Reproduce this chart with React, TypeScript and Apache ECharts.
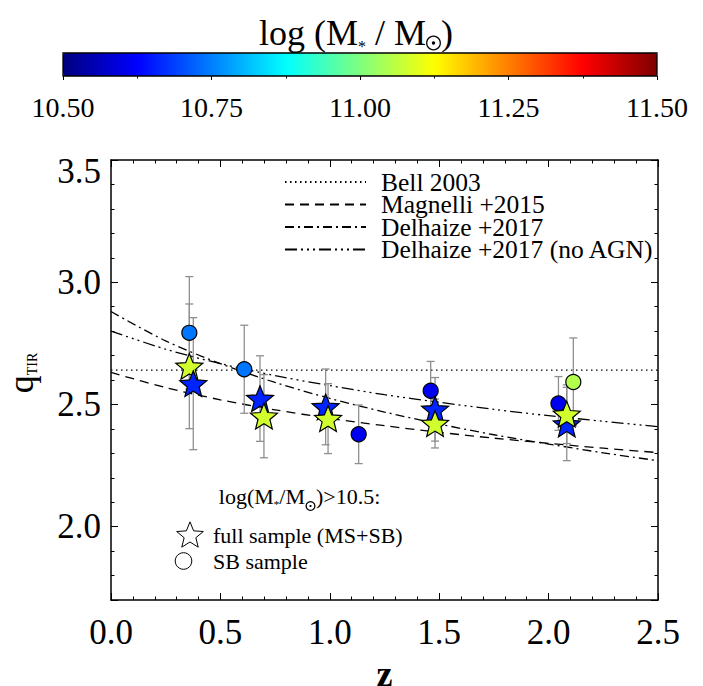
import React, { useEffect, useRef, useState } from 'react';
import * as echarts from 'echarts';

// ---------- data ----------
const massTicks = [10.5, 10.75, 11.0, 11.25, 11.5];
const zTicks = [0, 0.5, 1.0, 1.5, 2.0, 2.5];

const bellZ = [0, 2.5];
const bellQ = [2.64, 2.64];

const curveZ = [0, 0.25, 0.5, 0.75, 1.0, 1.25, 1.5, 1.75, 2.0, 2.25, 2.5];
const magnelliQ = [2.631, 2.569, 2.519, 2.478, 2.443, 2.413, 2.386, 2.362, 2.341, 2.321, 2.303];
const delhaizeQ = [2.88, 2.76, 2.667, 2.59, 2.525, 2.469, 2.42, 2.376, 2.338, 2.302, 2.27];
const delhaizeNoAgnQ = [2.8, 2.726, 2.667, 2.618, 2.577, 2.54, 2.509, 2.48, 2.454, 2.431, 2.409];

// SB sample (circles)
const sbZ = [0.358, 0.609, 1.132, 1.461, 2.045, 2.113];
const sbQ = [2.793, 2.644, 2.378, 2.556, 2.504, 2.592];
const sbErr = [0.23, 0.18, 0.12, 0.12, 0.11, 0.18];
const sbMass = [10.74, 10.74, 10.61, 10.61, 10.61, 11.05];

// full sample (stars), in drawing order
const fullZ = [0.358, 0.376, 0.681, 0.981, 1.481, 2.083, 0.699, 0.992, 1.481, 2.083];
const fullQ = [2.656, 2.585, 2.524, 2.49, 2.48, 2.42, 2.452, 2.442, 2.422, 2.46];
const fullErr = [0.255, 0.27, 0.175, 0.155, 0.13, 0.15, 0.17, 0.143, 0.1, 0.12];
const fullMass = [11.08, 10.66, 10.66, 10.66, 10.66, 10.66, 11.08, 11.08, 11.08, 11.08];

// ---------- styling ----------
const FONT = 'Liberation Serif';
const JET = ['#00007f', '#0000ff', '#007fff', '#00ffff', '#7fff7f', '#ffff00', '#ff7f00', '#ff0000', '#7f0000'];
const STAR_SHAPE = [
  [50, 0], [62.93, 32.2], [97.55, 34.55], [70.92, 56.8], [79.39, 90.45],
  [50, 72], [20.61, 90.45], [29.08, 56.8], [2.45, 34.55], [37.07, 32.2],
];
const STAR_PATH = 'path://M' + STAR_SHAPE.map((p) => p[0] + ' ' + p[1]).join(' L') + ' Z';

const errRender = (params: any, api: any) => {
  const x = api.value(0);
  const lo = api.coord([x, api.value(1)]);
  const hi = api.coord([x, api.value(2)]);
  const cap = 4;
  const style = { stroke: '#8f8f8f', lineWidth: 1.3, fill: 'none' };
  return {
    type: 'group',
    children: [
      { type: 'line', shape: { x1: lo[0], y1: lo[1], x2: hi[0], y2: hi[1] }, style },
      { type: 'line', shape: { x1: lo[0] - cap, y1: lo[1], x2: lo[0] + cap, y2: lo[1] }, style },
      { type: 'line', shape: { x1: hi[0] - cap, y1: hi[1], x2: hi[0] + cap, y2: hi[1] }, style },
    ],
  };
};

const axisBase = {
  type: 'value',
  axisLine: { show: true, onZero: false, lineStyle: { color: '#000', width: 1.5 } },
  axisTick: { show: true, inside: true, length: 7, lineStyle: { color: '#000', width: 1 } },
  minorTick: { show: true, splitNumber: 5, length: 3.5, lineStyle: { color: '#000', width: 1 } },
  splitLine: { show: false },
};

const Q_MAX = 3.5;
const LBL = { color: '#000', fontFamily: FONT, fontWeight: 'normal', fontStyle: 'normal' };

const sun = (cx: number, cy: number, r: number) => [
  { type: 'circle', z: 100, shape: { cx, cy, r }, style: { fill: 'none', stroke: '#000', lineWidth: 1.3 } },
  { type: 'circle', z: 100, shape: { cx, cy, r: Math.max(1, r * 0.25) }, style: { fill: '#000', stroke: 'none' } },
];

export default function App() {
  const ref = useRef<HTMLDivElement>(null);
  const [ready, setReady] = useState(0);
  useEffect(() => {
    if (!ref.current) return;
    const chart = echarts.init(ref.current, undefined, { renderer: 'svg' });
    const starPts = STAR_SHAPE.map((p) => [190 + (p[0] - 50) * 0.28, 535 + (p[1] - 47) * 0.28]);
    const option: any = {
      animation: false,
      backgroundColor: '#ffffff',
      textStyle: { fontFamily: FONT },
      grid: [
        { left: 111, top: 160, width: 547, height: 440, show: false, containLabel: false, outerBoundsMode: 'none' },
        { left: 63, top: 53, width: 594, height: 23, show: false, containLabel: false, outerBoundsMode: 'none' },
      ],
      xAxis: [
        {
          ...axisBase, gridIndex: 0, min: zTicks[0], max: zTicks[zTicks.length - 1], interval: 0.5, position: 'bottom',
          axisLabel: { ...LBL, fontSize: 35, margin: 15, formatter: (v: number) => v.toFixed(1) },
          name: 'z', nameLocation: 'middle', nameGap: 56,
          nameTextStyle: { fontSize: 36, fontWeight: 'bold', color: '#000', fontFamily: FONT },
        },
        {
          ...axisBase, gridIndex: 0, min: zTicks[0], max: zTicks[zTicks.length - 1], interval: 0.5, position: 'top',
          axisLabel: { show: false },
        },
        {
          type: 'value', gridIndex: 1, min: massTicks[0], max: massTicks[massTicks.length - 1], interval: 0.25, position: 'bottom',
          axisLine: { show: false },
          axisTick: { show: true, inside: false, length: 4, lineStyle: { color: '#000', width: 1 } },
          minorTick: { show: true, splitNumber: 2, length: 2.5, lineStyle: { color: '#000', width: 1 } },
          splitLine: { show: false },
          axisLabel: { ...LBL, fontSize: 28, margin: 17, formatter: (v: number) => v.toFixed(2) },
        },
      ],
      yAxis: [
        {
          ...axisBase, gridIndex: 0, min: 1.7, max: Q_MAX, splitNumber: 4, minInterval: 0.5, maxInterval: 0.5, position: 'left',
          axisLabel: {
            ...LBL, fontSize: 35, margin: 10, showMinLabel: false,
            verticalAlignMaxLabel: 'top',
            formatter: (v: number) => (v >= Q_MAX - 1e-9 ? '{m|' + v.toFixed(1) + '}' : v.toFixed(1)),
            rich: { m: { ...LBL, fontSize: 35, lineHeight: 22 } },
          },
        },
        {
          ...axisBase, gridIndex: 0, min: 1.7, max: Q_MAX, splitNumber: 4, minInterval: 0.5, maxInterval: 0.5, position: 'right',
          axisLabel: { show: false },
        },
        { type: 'value', gridIndex: 1, min: 0, max: 1, show: false },
      ],
      visualMap: {
        type: 'continuous', min: massTicks[0], max: massTicks[massTicks.length - 1], dimension: 2, seriesIndex: [6, 7],
        orient: 'horizontal', left: 63, top: 53, itemWidth: 23, itemHeight: 594, padding: 0,
        calculable: false, hoverLink: false, realtime: false,
        inRange: { color: JET },
      },
      legend: {
        data: ['Bell 2003', 'Magnelli +2015', 'Delhaize +2017', 'Delhaize +2017 (no AGN)'],
        orient: 'vertical', left: 284, top: 169, itemWidth: 81, itemHeight: 12, itemGap: -3.5, padding: 0,
        selectedMode: false,
        itemStyle: { opacity: 0 },
        textStyle: { ...LBL, fontSize: 25.5, lineHeight: 21, padding: [0, 0, 0, 10] },
      },
      series: [
        { type: 'line', name: 'Bell 2003', data: bellZ.map((z, i) => [z, bellQ[i]]), symbol: 'none', z: 2, lineStyle: { color: '#000', width: 1.3, type: [1.5, 3.5] }, itemStyle: { color: '#000' } },
        { type: 'line', name: 'Magnelli +2015', data: curveZ.map((z, i) => [z, magnelliQ[i]]), symbol: 'none', smooth: 0.3, z: 2, lineStyle: { color: '#000', width: 1.3, type: [9, 6] }, itemStyle: { color: '#000' } },
        { type: 'line', name: 'Delhaize +2017', data: curveZ.map((z, i) => [z, delhaizeQ[i]]), symbol: 'none', smooth: 0.3, z: 2, lineStyle: { color: '#000', width: 1.3, type: [9, 4, 2, 4] }, itemStyle: { color: '#000' } },
        { type: 'line', name: 'Delhaize +2017 (no AGN)', data: curveZ.map((z, i) => [z, delhaizeNoAgnQ[i]]), symbol: 'none', smooth: 0.3, z: 2, lineStyle: { color: '#000', width: 1.3, type: [12, 4, 2, 4, 2, 4, 2, 4] }, itemStyle: { color: '#000' } },
        { type: 'custom', name: 'errSB', renderItem: errRender, z: 3, data: sbZ.map((z, i) => [z, sbQ[i] - sbErr[i], sbQ[i] + sbErr[i]]), encode: { x: 0, y: [1, 2] } },
        { type: 'custom', name: 'errFull', renderItem: errRender, z: 3, data: fullZ.map((z, i) => [z, fullQ[i] - fullErr[i], fullQ[i] + fullErr[i]]), encode: { x: 0, y: [1, 2] } },
        { type: 'scatter', name: 'SB sample', data: sbZ.map((z, i) => [z, sbQ[i], sbMass[i]]), symbol: 'circle', symbolSize: 15, z: 4, itemStyle: { borderColor: '#000', borderWidth: 1.2, opacity: 1 } },
        { type: 'scatter', name: 'full sample', data: fullZ.map((z, i) => [z, fullQ[i], fullMass[i]]), symbol: STAR_PATH, symbolSize: 27, symbolKeepAspect: true, z: 5, itemStyle: { borderColor: '#000', borderWidth: 1.2, opacity: 1 } },
      ],
      graphic: [
        { type: 'rect', shape: { x: 63, y: 53, width: 594, height: 23 }, z: 100, style: { fill: 'none', stroke: '#000', lineWidth: 1.3 } },
        {
          type: 'text', x: 426, y: 33, z: 100,
          style: {
            text: '{a|log (M}{s|*}{a| / M}', align: 'right', verticalAlign: 'middle', fill: '#000',
            rich: {
              a: { fontSize: 36, fontFamily: FONT, lineHeight: 42, fill: '#000' },
              s: { fontSize: 16, fontFamily: FONT, lineHeight: 20, verticalAlign: 'bottom', fill: '#000' },
            },
          },
        },
        ...sun(433.5, 43, 6.8),
        { type: 'text', x: 441, y: 33, z: 100, style: { text: ')', fontSize: 36, fontFamily: FONT, fill: '#000', align: 'left', verticalAlign: 'middle' } },
        {
          type: 'text', x: 21, y: 373, rotation: Math.PI / 2, z: 100,
          style: {
            text: '{q|q}{t|TIR}', align: 'center', verticalAlign: 'middle', fill: '#000',
            rich: {
              q: { fontSize: 36, fontFamily: FONT, lineHeight: 36, fill: '#000' },
              t: { fontSize: 14, fontFamily: FONT, lineHeight: 14, verticalAlign: 'bottom', fill: '#000' },
            },
          },
        },
        {
          type: 'text', x: 305, y: 496, z: 100,
          style: {
            text: '{a|log(M}{s|*}{a|/M}', align: 'right', verticalAlign: 'middle', fill: '#000',
            rich: {
              a: { fontSize: 22, fontFamily: FONT, lineHeight: 26, fill: '#000' },
              s: { fontSize: 11, fontFamily: FONT, lineHeight: 13, verticalAlign: 'bottom', fill: '#000' },
            },
          },
        },
        ...sun(310.5, 506, 4.4),
        { type: 'text', x: 316, y: 496, z: 100, style: { text: ')>10.5:', fontSize: 22, fontFamily: FONT, fill: '#000', align: 'left', verticalAlign: 'middle' } },
        { type: 'text', x: 213, y: 535, z: 100, style: { text: 'full sample (MS+SB)', fontSize: 22, fontFamily: FONT, fill: '#000', align: 'left', verticalAlign: 'middle' } },
        { type: 'text', x: 213, y: 561, z: 100, style: { text: 'SB sample', fontSize: 22, fontFamily: FONT, fill: '#000', align: 'left', verticalAlign: 'middle' } },
        { type: 'polygon', z: 100, shape: { points: starPts }, style: { fill: '#fff', stroke: '#000', lineWidth: 1 } },
        { type: 'circle', z: 100, shape: { cx: 183.5, cy: 561, r: 8.3 }, style: { fill: '#fff', stroke: '#000', lineWidth: 1 } },
      ],
    };
    chart.setOption(option);
    setReady(1);
    let alive = true;
    const redraw = () => { if (alive && !chart.isDisposed()) chart.setOption(option, true); };
    const t = setTimeout(redraw, 30);
    const fonts: any = (document as any).fonts;
    if (fonts && fonts.ready) fonts.ready.then(redraw);
    return () => { alive = false; clearTimeout(t); chart.dispose(); };
  }, []);
  return (
    <div>
      <div ref={ref} style={{ position: 'fixed', left: 0, top: 0, width: 703, height: 686, background: '#fff', fontFamily: FONT }} />
      {ready ? <div data-ready="1" style={{ position: 'fixed', left: 0, top: 0, width: 0, height: 0, overflow: 'hidden' }} /> : null}
    </div>
  );
}
